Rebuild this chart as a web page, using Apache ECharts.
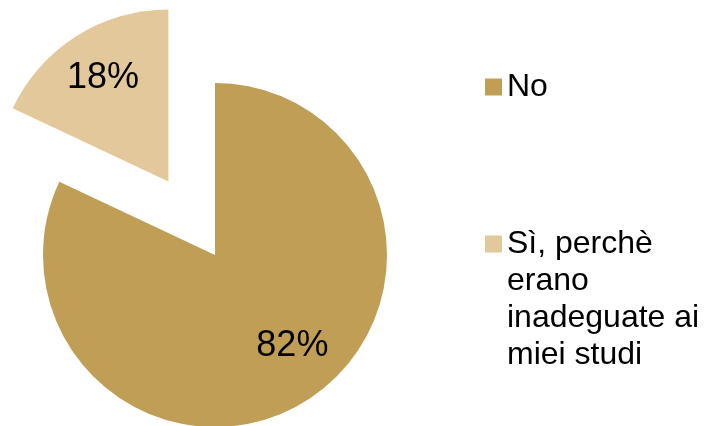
<!DOCTYPE html>
<html>
<head>
<meta charset="utf-8">
<script src="https://cdn.jsdelivr.net/npm/echarts@6/dist/echarts.min.js"></script>
<style>
html,body{margin:0;padding:0;background:#fff;}
#c{width:705px;height:426px;}
</style>
</head>
<body>
<div id="c"></div>
<script>
var categories = ['No', 'Sì, perchè erano inadeguate ai miei studi'];
var values = [82, 18];
var colors = ['#C09E55', '#E2C89A'];
var legendLabels = ['No', '\n\n\nSì, perchè\nerano\ninadeguate ai\nmiei studi'];
var exploded = [false, true];

var FONT = 'Liberation Sans, Arial, sans-serif';
var labelOffsets = [[12, -12], [0, 3]];
var chart = echarts.init(document.getElementById('c'));

var pieData = categories.map(function (n, i) {
  return { name: n, value: values[i], selected: exploded[i], itemStyle: { color: colors[i] } };
});
var overlayData = categories.map(function (n, i) {
  return { name: n, value: values[i], selected: exploded[i], itemStyle: { color: 'rgba(0,0,0,0)' },
           label: { offset: labelOffsets[i] } };
});

function legendFor(i, top) {
  return {
    orient: 'vertical', left: 485, top: top, padding: 0,
    itemWidth: 17, itemHeight: 17, icon: 'rect', selectedMode: false,
    data: [{ name: categories[i], itemStyle: { color: colors[i] } }],
    formatter: function () { return legendLabels[i]; },
    textStyle: { fontSize: 32, lineHeight: 37, color: '#000', fontFamily: FONT }
  };
}

chart.setOption({
  animation: false,
  legend: [legendFor(0, 68.5), legendFor(1, 114.5)],
  series: [
    {
      type: 'pie', center: [215, 255], radius: [0, 172],
      startAngle: 90, clockwise: true,
      selectedMode: 'multiple', selectedOffset: 87,
      label: { show: false }, labelLine: { show: false },
      emphasis: { disabled: true }, silent: true,
      data: pieData
    },
    {
      type: 'pie', center: [215, 255], radius: [0, 238],
      startAngle: 90, clockwise: true,
      selectedMode: 'multiple', selectedOffset: 87,
      percentPrecision: 0,
      label: { show: true, position: 'inside', formatter: '{d}%', fontSize: 36, color: '#000', fontFamily: FONT },
      labelLine: { show: false },
      emphasis: { disabled: true }, silent: true,
      data: overlayData
    }
  ]
});
</script>
</body>
</html>
